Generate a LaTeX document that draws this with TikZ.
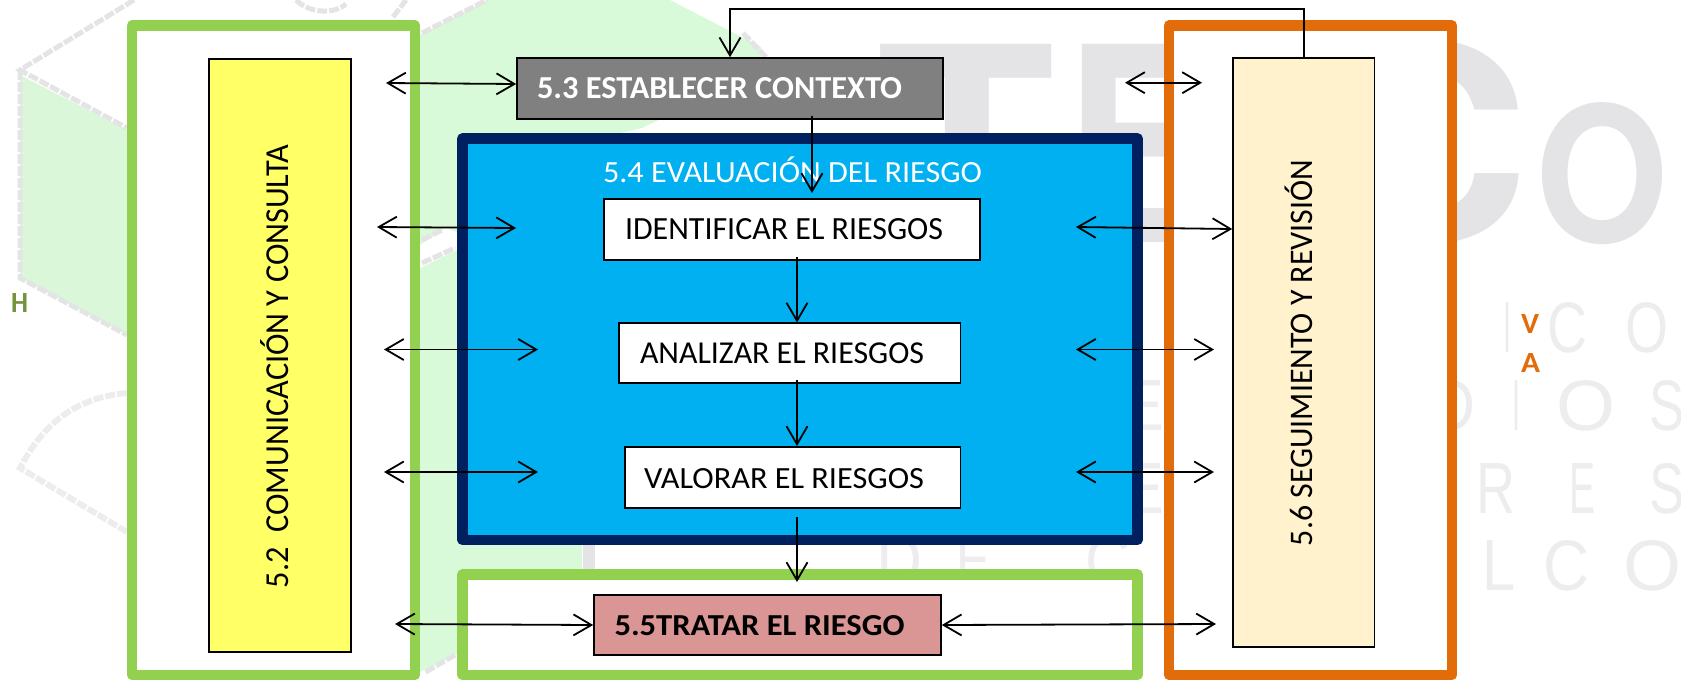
\documentclass[tikz,border=0pt]{standalone}
\usepackage{graphicx}
\usepackage{fontspec}
\setmainfont{Carlito}
\newfontfamily\wmbold{TeX Gyre Heros}
\newfontfamily\wmthin{Liberation Sans}
\usetikzlibrary{arrows.meta}
\definecolor{boxgreen}{HTML}{92D050}
\definecolor{boxorange}{HTML}{E36C0A}
\definecolor{boxnavy}{HTML}{002060}
\definecolor{boxblue}{HTML}{00B0F0}
\definecolor{boxgray}{HTML}{808080}
\definecolor{boxyellow}{HTML}{FFFF66}
\definecolor{boxcream}{HTML}{FFF2CC}
\definecolor{boxrose}{HTML}{D99694}
\definecolor{wmgreen}{HTML}{D8FAD8}
\definecolor{wmgray}{HTML}{E4E4E6}
\definecolor{wmthinc}{HTML}{EDEDEF}
\definecolor{olive}{HTML}{76923C}
% exact size of a text: width, height (pt = reference pixels)
\newcommand{\sized}[3]{\resizebox{#1pt}{#2pt}{#3}}
% put a text with its left baseline point at (dx,dy) from the centre of its box (dy upward)
\newcommand{\placetxt}[3]{\smash{\makebox[0pt][l]{\hspace*{#1pt}\raisebox{#2pt}{#3}}}}
\tikzset{
  frame/.style={draw,line join=round,line width=10.5pt,fill=white,inner sep=0pt,rectangle},
  stepbox/.style={draw=black,line width=1.6pt,inner sep=0pt,rectangle,text=black},
  link/.style={draw=black,line width=1.8pt,-{Straight Barb[length=18pt,width=21pt,line width=1.8pt]}},
  dlink/.style={draw=black,line width=1.8pt,{Straight Barb[length=18pt,width=21pt,line width=1.8pt]}-{Straight Barb[length=18pt,width=21pt,line width=1.8pt]}},
  wmbig/.style={text=wmgray,inner sep=0pt,anchor=south west,font=\wmbold\bfseries},
  wmsmall/.style={text=wmthinc,inner sep=0pt,anchor=base west,font=\wmthin},
  wmline/.style={draw=wmgray,line width=5pt,dash pattern=on 10pt off 2pt},
  side/.style={inner sep=0pt,anchor=base west,font=\bfseries}
}
\begin{document}
\begin{tikzpicture}[x=1pt,y=-1pt]
\useasboundingbox (0,0) rectangle (1681,681);
\begin{scope}
\clip (0,0) rectangle (1681,681);
% watermark
\fill[wmgreen] (420,35) -- (487,0) -- (670,0) -- (761,47) -- (761,60) -- (700,100) -- (642,128) -- (590,140) -- (582,150) -- (582,600) -- (455,655) -- (420,672) -- cycle;
\fill[wmgreen!85!wmgray] (20,75) -- (127,130) -- (127,335) -- (20,278) -- cycle;
\draw[wmline] (134,0) -- (20,70) -- (127,128);
\draw[wmline] (20,70) -- (20,278) -- (127,335);
\draw[wmline] (422,33) -- (487,0);
\draw[wmline] (743,33) -- (766,57);
\draw[wmline] (296,0) .. controls (310,14) and (335,14) .. (346,4);
\draw[wmline] (393,17) -- (406,0);
\draw[wmline,dash pattern=on 100pt off 0pt,line width=12pt] (589,545) -- (589,569);
\fill[white] (420,245) -- (445,228) -- (457,232) -- (457,250) -- (420,268) -- cycle;
\draw[wmline] (422,240) -- (442,230);
\draw[wmline] (422,263) -- (455,248);
\draw[wmline] (455,655) -- (424,673);
\draw[draw=wmthinc,line width=6pt,dash pattern=on 10pt off 2pt] (127,393) .. controls (70,398) and (40,430) .. (20,468) -- (127,532);
\node[wmbig,name=wmT] at (876,243) {\sized{179}{198}{T}};
\node[wmbig,name=wmE] at (1064,243) {\sized{150}{198}{E}};
\node[wmbig,name=wmC] at (1310,245) {\sized{220}{202}{C}};
\node[wmbig,name=wmO] at (1535,245) {\sized{133}{140}{O}};
\foreach \n/\x/\yb/\w/\c in {a/1503/352/8/I,b/1547/352/40/C,c/1625/352/43/O,
  d/1120/430/44/E,e/1430/430/45/D,f/1512/430/8/I,g/1556/430/59/O,h/1649/430/35/S,
  i/1120/513/44/E,j/1476/513/39/R,k/1569/513/26/E,l/1649/513/35/S,
  m/1482/590/33/L,n/1543/590/46/C,o/1623/590/58/O,
  p/876/585/46/D,q/956/585/34/E,r/1085/585/45/C}
  \node[wmsmall,name=wm\n] at (\x,\yb) {\sized{\w}{50}{\c}};
\end{scope}
% side letters
\node[side,text=olive,name=sideH] at (11,312) {\sized{17}{19}{H}};
\node[side,text=boxorange,name=sideV] at (1521,333) {\sized{18}{19}{V}};
\node[side,text=boxorange,name=sideA] at (1521,372) {\sized{19}{19}{A}};
% frames
\node[frame,draw=boxgreen,minimum width=283pt,minimum height=649.5pt,name=frameL] at (273.5,350.25) {};
\node[frame,draw=boxorange,minimum width=283pt,minimum height=649.5pt,name=frameR] at (1310.5,350.25) {};
\node[frame,draw=boxgreen,minimum width=675pt,minimum height=100.5pt,name=frameT] at (800,624.75) {};
\node[frame,draw=boxnavy,fill=boxblue,text=white,minimum width=675pt,minimum height=401.5pt,name=eval] at (800,339.25)
  {\placetxt{-197}{157.25}{\sized{379}{25.7}{5.4 EVALUACIÓN DEL RIESGO}}};
% boxes
\node[stepbox,fill=boxyellow,minimum width=142pt,minimum height=593pt,name=comm] at (280,355.5)
  {\placetxt{-19.5}{-232.5}{\rotatebox{90}{\sized{443}{28}{5.2\ \ COMUNICACIÓN Y CONSULTA}}}};
\node[stepbox,fill=boxcream,minimum width=141.5pt,minimum height=589pt,name=review] at (1303.75,352.5)
  {\placetxt{-19.25}{-193.5}{\rotatebox{90}{\sized{386}{27.5}{5.6 SEGUIMIENTO Y REVISIÓN}}}};
\node[stepbox,fill=boxgray,text=white,minimum width=426pt,minimum height=61pt,name=context] at (730,88.5)
  {\placetxt{-193}{-9.5}{\sized{365}{21}{\bfseries 5.3 ESTABLECER CONTEXTO}}};
\node[stepbox,fill=white,minimum width=376pt,minimum height=61pt,name=ident] at (792,229.5)
  {\placetxt{-167}{-9.5}{\sized{318}{21}{IDENTIFICAR EL RIESGOS}}};
\node[stepbox,fill=white,minimum width=341.6pt,minimum height=60pt,name=analyze] at (789.8,353)
  {\placetxt{-149.8}{-10.3}{\sized{284}{20.7}{ANALIZAR EL RIESGOS}}};
\node[stepbox,fill=white,minimum width=335.6pt,minimum height=61pt,name=assess] at (792.8,477.5)
  {\placetxt{-148.8}{-10.8}{\sized{280}{20}{VALORAR EL RIESGOS}}};
\node[stepbox,fill=boxrose,minimum width=347pt,minimum height=60pt,name=treat] at (767.5,625)
  {\placetxt{-153}{-10}{\sized{290}{20}{\bfseries 5.5TRATAR EL RIESGO}}};
% free connector ends
\coordinate (looptop) at (1000,9);
\coordinate (c1a) at (812,116); \coordinate (c1b) at (812,193);
\coordinate (c2a) at (797,257); \coordinate (c2b) at (797,322.5);
\coordinate (c3a) at (797,380); \coordinate (c3b) at (797,446);
\coordinate (c4a) at (797,517); \coordinate (c4b) at (797,582);
\coordinate (la) at (386,83);  \coordinate (lat) at (516.5,84);
\coordinate (lb) at (377,227); \coordinate (lbt) at (516,228);
\coordinate (lc) at (384,349.5); \coordinate (lct) at (538,349.5);
\coordinate (ld) at (384,472); \coordinate (ldt) at (538,472);
\coordinate (le) at (395,624);
\coordinate (ra) at (1125,82.7); \coordinate (rat) at (1202,82.7);
\coordinate (rb) at (1076,227); \coordinate (rbt) at (1232.4,229);
\coordinate (rc) at (1076,349.5); \coordinate (rct) at (1214,349.5);
\coordinate (rd) at (1076,472); \coordinate (rdt) at (1214,472);
\coordinate (ret) at (1216,624);
% connectors
\draw[link] (review.north) |- (looptop) -| (context.north);
\draw[link] (c1a) -- (c1b);
\draw[link] (c2a) -- (c2b);
\draw[link] (c3a) -- (c3b);
\draw[link] (c4a) -- (c4b);
\draw[dlink] (la) -- (context.west |- lat);
\draw[dlink] (lb) -- (lbt);
\draw[dlink] (lc) -- (lct);
\draw[dlink] (ld) -- (ldt);
\draw[dlink] (le) -- (treat.west);
\draw[dlink] (ra) -- (rat);
\draw[dlink] (rb) -- (review.west |- rbt);
\draw[dlink] (rc) -- (rct);
\draw[dlink] (rd) -- (rdt);
\draw[dlink] (treat.east) -- (ret);
\end{tikzpicture}
\end{document}
